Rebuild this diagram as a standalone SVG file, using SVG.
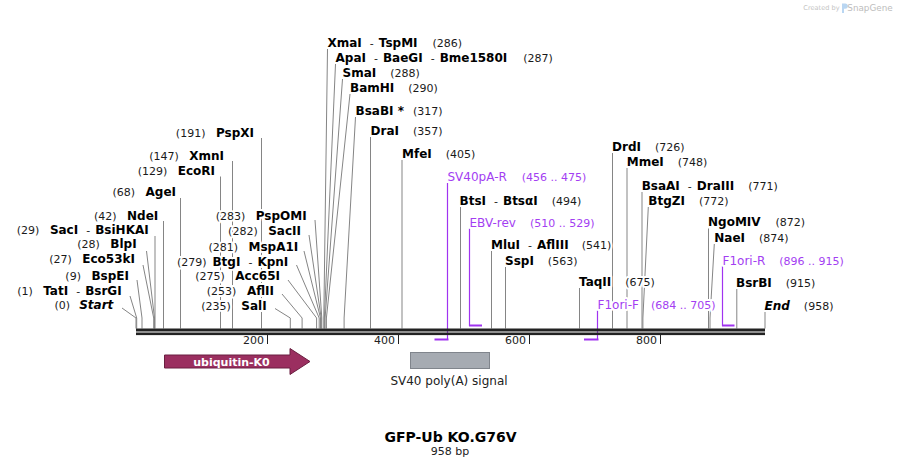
<svg xmlns="http://www.w3.org/2000/svg" width="901" height="468" viewBox="0 0 901 468">
<style>
.t{font-family:"DejaVu Sans",Verdana,sans-serif;font-size:11px;fill:#1a1a1a;stroke:#fff;stroke-width:4;stroke-linejoin:round;paint-order:stroke}
.b{font-weight:bold;font-size:12px;fill:#000}
.i{font-style:italic}
.pu{fill:#a33ef2}
.pn{font-size:12px}
.l{stroke:#858585;stroke-width:1;fill:none}
.pl{stroke:#a033f0;stroke-width:1.2;fill:none}
.pb{stroke:#a033f0;stroke-width:2;fill:none}
.ax{stroke:#222;stroke-width:1;fill:none}
.f{font-family:"DejaVu Sans",Verdana,sans-serif}
</style>
<rect width="901" height="468" fill="#fff"/>

<g id="logo">
<text class="f" x="803.3" y="10" font-size="6.6" fill="#c4c4c4">Created by</text>
<path d="M842,3.5h3.2a2.6,2.6 0 0 1 0,5.2h-1.2v4.3h-2z" fill="#b9d6f2"/>
<text class="f" x="847.3" y="10.5" font-size="8.8" fill="#bdbdbd">SnapGene</text>
</g>

<g id="connectors">
<path class="l" d="M261.5,138V328.5M232.5,161V328.5M220.5,176.5V328.5M180.5,198V328.5M163.5,221V328.5M155,236V328.5"/>
<path class="l" d="M146.5,251L154.5,318V328.5M143,265L153.7,318V328.5M137,280L142,318V328.5M130,296L136.7,318V328.5M122,308L136,318V328.5"/>
<path class="l" d="M315,220L321.8,318V328.5M309,235L321.2,318V328.5M304,251L320.5,318V328.5M296.5,265L319.2,318V328.5M288,280L316.6,318V328.5M282,294L302.1,318V328.5M275,308.5L290.3,318V328.5"/>
<path class="l" d="M327.5,49L323.8,318V328.5M335.5,64L324.4,318V328.5M342.5,79L325.1,318V328.5M350,94L326.4,318V328.5M355.5,117L344.1,318V328.5"/>
<path class="l" d="M370.5,137V328.5M402,160V328.5M460.5,207V328.5M491.5,251V328.5M505.5,267V328.5M579.5,288V328.5"/>
<path class="l" d="M612.5,153V328.5M627,168V328.5M642,192V328.5M648.3,207L642.9,318V328.5M708.5,228.5V328.5M714.3,244L710,318V328.5M736.8,288.5V328.5M765,311V328.5"/>
<path class="pl" d="M447.5,183V339.5M469.5,228.5V326M597.5,310.5V339.5M722.5,266V326"/>
<path class="pb" d="M434.5,339.5H448.5M469,325.5H482M584,339.5H598.5M722,325.5H734.5"/>
</g>

<g id="backbone">
<rect x="136" y="328.5" width="629" height="3" fill="#222"/>
<rect x="136" y="332.5" width="629" height="2.6" fill="#222"/>
<path class="ax" d="M267.5,335V344M398.5,335V344M529.5,335V344M660.5,335V344"/>
<text class="f" x="264" y="344" text-anchor="end" font-size="11" fill="#222">200</text>
<text class="f" x="395" y="344" text-anchor="end" font-size="11" fill="#222">400</text>
<text class="f" x="526" y="344" text-anchor="end" font-size="11" fill="#222">600</text>
<text class="f" x="657" y="344" text-anchor="end" font-size="11" fill="#222">800</text>
</g>

<g id="site-PspXI"><text class="t" x="254" y="137" text-anchor="end">(191)<tspan class="b" dx="10.5">PspXI</tspan></text></g>
<g id="site-XmnI"><text class="t" x="224" y="159.5" text-anchor="end">(147)<tspan class="b" dx="10.5">XmnI</tspan></text></g>
<g id="site-EcoRI"><text class="t" x="215" y="174.5" text-anchor="end">(129)<tspan class="b" dx="10.5">EcoRI</tspan></text></g>
<g id="site-AgeI"><text class="t" x="176" y="196" text-anchor="end">(68)<tspan class="b" dx="10.5">AgeI</tspan></text></g>
<g id="site-NdeI"><text class="t" x="158.3" y="220" text-anchor="end">(42)<tspan class="b" dx="10.5">NdeI</tspan></text></g>
<g id="site-SacI"><text class="t" x="148.7" y="234" text-anchor="end">(29)<tspan class="b" dx="10.5">SacI</tspan><tspan dx="8">-</tspan><tspan class="b" dx="5">BsiHKAI</tspan></text></g>
<g id="site-BlpI"><text class="t" x="136.7" y="247.5" text-anchor="end">(28)<tspan class="b" dx="10.5">BlpI</tspan></text></g>
<g id="site-Eco53kI"><text class="t" x="135" y="262.5" text-anchor="end">(27)<tspan class="b" dx="10.5">Eco53kI</tspan></text></g>
<g id="site-BspEI"><text class="t" x="129" y="279.5" text-anchor="end">(9)<tspan class="b" dx="10.5">BspEI</tspan></text></g>
<g id="site-TatI"><text class="t" x="121.7" y="295" text-anchor="end">(1)<tspan class="b" dx="10.5">TatI</tspan><tspan dx="8">-</tspan><tspan class="b" dx="5">BsrGI</tspan></text></g>
<g id="site-Start"><text class="t" x="113.3" y="309" text-anchor="end">(0)<tspan class="b i" dx="9">Start</tspan></text></g>

<g id="site-PspOMI"><text class="t" x="306.7" y="219.5" text-anchor="end">(283)<tspan class="b" dx="10.5">PspOMI</tspan></text></g>
<g id="site-SacII"><text class="t" x="301" y="234.5" text-anchor="end">(282)<tspan class="b" dx="10.5">SacII</tspan></text></g>
<g id="site-MspA1I"><text class="t" x="298.3" y="250.5" text-anchor="end">(281)<tspan class="b" dx="10.5">MspA1I</tspan></text></g>
<g id="site-BtgI"><text class="t" x="288.3" y="266" text-anchor="end">(279)<tspan class="b" dx="6">BtgI</tspan><tspan dx="8">-</tspan><tspan class="b" dx="5">KpnI</tspan></text></g>
<g id="site-Acc65I"><text class="t" x="280" y="279.5" text-anchor="end">(275)<tspan class="b" dx="10.5">Acc65I</tspan></text></g>
<g id="site-AflII"><text class="t" x="274" y="294.5" text-anchor="end">(253)<tspan class="b" dx="10.5">AflII</tspan></text></g>
<g id="site-SalI"><text class="t" x="266.7" y="309.5" text-anchor="end">(235)<tspan class="b" dx="10.5">SalI</tspan></text></g>

<g id="site-XmaI"><text class="t" x="327.5" y="47"><tspan class="b">XmaI</tspan><tspan dx="8">-</tspan><tspan class="b" dx="5">TspMI</tspan><tspan dx="15">(286)</tspan></text></g>
<g id="site-ApaI"><text class="t" x="335.5" y="62"><tspan class="b">ApaI</tspan><tspan dx="8">-</tspan><tspan class="b" dx="5">BaeGI</tspan><tspan dx="8">-</tspan><tspan class="b" dx="5">Bme1580I</tspan><tspan dx="16">(287)</tspan></text></g>
<g id="site-SmaI"><text class="t" x="342.5" y="76.5"><tspan class="b">SmaI</tspan><tspan dx="14">(288)</tspan></text></g>
<g id="site-BamHI"><text class="t" x="350" y="91.5"><tspan class="b">BamHI</tspan><tspan dx="14">(290)</tspan></text></g>
<g id="site-BsaBI"><text class="t" x="355.5" y="114.5"><tspan class="b">BsaBI *</tspan><tspan dx="9">(317)</tspan></text></g>
<g id="site-DraI"><text class="t" x="370.5" y="135"><tspan class="b">DraI</tspan><tspan dx="14">(357)</tspan></text></g>
<g id="site-MfeI"><text class="t" x="402" y="158"><tspan class="b">MfeI</tspan><tspan dx="14">(405)</tspan></text></g>
<g id="primer-SV40pA-R"><text class="t pu" x="447.5" y="181"><tspan class="pn">SV40pA-R</tspan><tspan dx="15">(456 .. 475)</tspan></text></g>
<g id="site-BtsI"><text class="t" x="459.5" y="204.5"><tspan class="b">BtsI</tspan><tspan dx="8">-</tspan><tspan class="b" dx="5">BtsαI</tspan><tspan dx="14">(494)</tspan></text></g>
<g id="primer-EBV-rev"><text class="t pu" x="469.5" y="226.5"><tspan class="pn">EBV-rev</tspan><tspan dx="14">(510 .. 529)</tspan></text></g>
<g id="site-MluI"><text class="t" x="491" y="248.5"><tspan class="b">MluI</tspan><tspan dx="8">-</tspan><tspan class="b" dx="5">AflIII</tspan><tspan dx="13">(541)</tspan></text></g>
<g id="site-SspI"><text class="t" x="505" y="264.5"><tspan class="b">SspI</tspan><tspan dx="14">(563)</tspan></text></g>
<g id="site-TaqII"><text class="t" x="579" y="286"><tspan class="b">TaqII</tspan><tspan dx="14">(675)</tspan></text></g>
<g id="primer-F1ori-F"><text class="t pu" x="597.5" y="309"><tspan class="pn">F1ori-F</tspan><tspan dx="12">(684 .. 705)</tspan></text></g>
<g id="site-DrdI"><text class="t" x="612" y="151"><tspan class="b">DrdI</tspan><tspan dx="14">(726)</tspan></text></g>
<g id="site-MmeI"><text class="t" x="626.7" y="166"><tspan class="b">MmeI</tspan><tspan dx="14">(748)</tspan></text></g>
<g id="site-BsaAI"><text class="t" x="641.7" y="189.5"><tspan class="b">BsaAI</tspan><tspan dx="8">-</tspan><tspan class="b" dx="5">DraIII</tspan><tspan dx="14">(771)</tspan></text></g>
<g id="site-BtgZI"><text class="t" x="648.3" y="204.5"><tspan class="b">BtgZI</tspan><tspan dx="14">(772)</tspan></text></g>
<g id="site-NgoMIV"><text class="t" x="708" y="226"><tspan class="b">NgoMIV</tspan><tspan dx="15">(872)</tspan></text></g>
<g id="site-NaeI"><text class="t" x="714.3" y="241.5"><tspan class="b">NaeI</tspan><tspan dx="14">(874)</tspan></text></g>
<g id="primer-F1ori-R"><text class="t pu" x="722.5" y="264.5"><tspan class="pn">F1ori-R</tspan><tspan dx="14">(896 .. 915)</tspan></text></g>
<g id="site-BsrBI"><text class="t" x="736" y="286.5"><tspan class="b">BsrBI</tspan><tspan dx="14">(915)</tspan></text></g>
<g id="site-End"><text class="t" x="764.5" y="309.5"><tspan class="b i">End</tspan><tspan dx="14">(958)</tspan></text></g>

<g id="feature-ubiquitin">
<path d="M164.5,355H290V348.5L310,361.5L290,374.5V368H164.5Z" fill="#9b2f60" stroke="#6a1f40" stroke-width="1"/>
<text class="f" x="231.5" y="365.5" text-anchor="middle" font-size="11" font-weight="bold" fill="#fff">ubiquitin-K0</text>
</g>
<g id="feature-SV40">
<rect x="410.5" y="352.5" width="79" height="16" fill="#a6abb2" stroke="#80858c" stroke-width="1"/>
<text class="f" x="449" y="385" text-anchor="middle" font-size="12" fill="#222">SV40 poly(A) signal</text>
</g>

<g id="title">
<text class="f" x="450.5" y="442" text-anchor="middle" font-size="14" font-weight="bold" fill="#000">GFP-Ub KO.G76V</text>
<text class="f" x="450" y="455" text-anchor="middle" font-size="11" fill="#222">958 bp</text>
</g>
</svg>
